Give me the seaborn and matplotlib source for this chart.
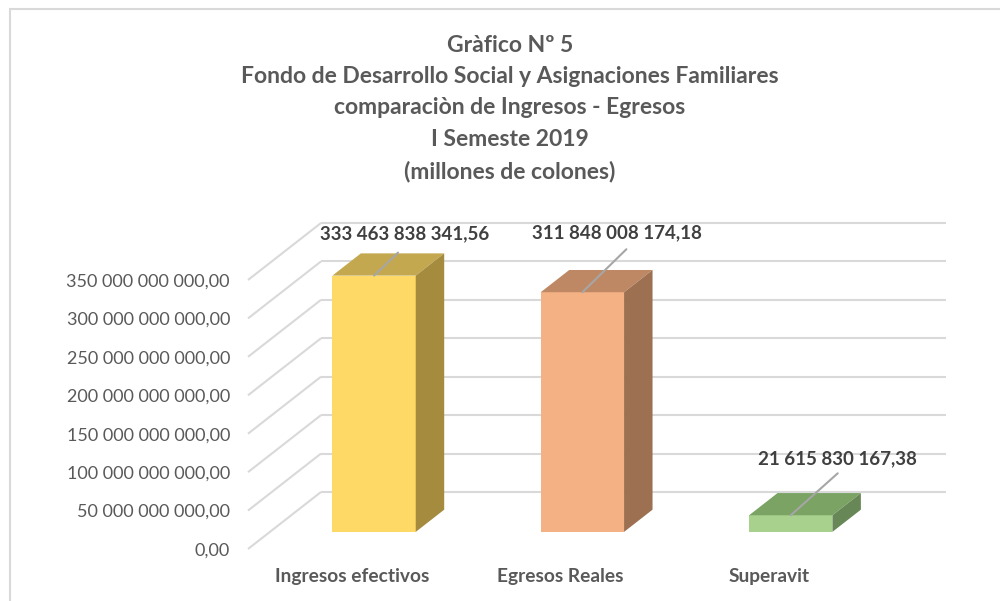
import numpy as np
import seaborn as sns
import matplotlib.pyplot as plt
import matplotlib.transforms as mtransforms
from matplotlib.patches import Polygon, Rectangle

# data
categories = ["Ingresos efectivos", "Egresos Reales", "Superavit"]
values = [333463838341.56, 311848008174.18, 21615830167.38]
y_ticks = [0, 50e9, 100e9, 150e9, 200e9, 250e9, 300e9, 350e9]
title_lines = ["Gràfico Nº 5",
               "Fondo de Desarrollo Social y Asignaciones Familiares",
               "comparaciòn de Ingresos - Egresos",
               "I Semeste 2019",
               "(millones de colones)"]

front_colors = ["#FFD966", "#F4B183", "#A9D18E"]
top_colors = ["#C4A84F", "#BF8864", "#7AA364"]
side_colors = ["#A48B3E", "#9C7050", "#688757"]

# label placement in pixels relative to the top-front edge of each bar
text_off = [(31, 42), (35, 59), (47, 57)]
leader_off = [(24, 23), (44, 43), (47, 42)]


def fmt(v, pos=None):
    return f"{v:,.2f}".replace(",", " ").replace(".", ",")


plt.rcParams["font.family"] = ["Lato", "DejaVu Sans"]
grid_c = "#D9D9D9"
txt_c = "#595959"

fig = plt.figure(figsize=(10, 6.01), dpi=100)
# axes = front plane of the 3d box
ax = fig.add_axes([0.248, 52 / 601, 0.625, 269 / 601])
ax.set_facecolor("none")

ymax = 350e9
ax.set_xlim(-0.5, 2.5)
ax.set_ylim(0, ymax)

# depth of the box in data units
DX = 73 / (625 / 3)
DY = 57 / 269 * ymax
f0, f1 = 0.3, 0.69   # front and back of bars as fraction of depth

sns.barplot(x=categories, y=values, hue=categories, palette=front_colors,
            saturation=1, width=0.4, legend=False, edgecolor="none", ax=ax, zorder=3)

# walls: slanted lines on the left side and horizontal lines on back wall
for v in y_ticks:
    ax.plot([-0.5, -0.5 + DX], [v, v + DY], color=grid_c, lw=1.5,
            clip_on=False, zorder=0.5, solid_capstyle="butt")
    ax.plot([-0.5 + DX, 2.5 + DX], [v + DY, v + DY], color=grid_c, lw=1.5,
            clip_on=False, zorder=0.5, solid_capstyle="butt")

sx, sy = f0 * DX, f0 * DY
tx, ty = (f1 - f0) * DX, (f1 - f0) * DY
shift = mtransforms.Affine2D().translate(sx, sy) + ax.transData

bars = sorted(ax.patches, key=lambda p: p.get_x())
for i, p in enumerate(bars):
    p.set_transform(shift)
    p.set_clip_on(False)
    x0 = p.get_x() + sx
    x1 = x0 + p.get_width()
    h = p.get_height() + sy
    top = Polygon([(x0, h), (x1, h), (x1 + tx, h + ty), (x0 + tx, h + ty)],
                  closed=True, facecolor=top_colors[i], edgecolor="none",
                  zorder=3, clip_on=False)
    side = Polygon([(x1, sy), (x1 + tx, sy + ty), (x1 + tx, h + ty), (x1, h)],
                   closed=True, facecolor=side_colors[i], edgecolor="none",
                   zorder=3, clip_on=False)
    ax.add_patch(top)
    ax.add_patch(side)

    cx = (x0 + x1) / 2
    ax.annotate("", xy=(cx, h), xytext=leader_off[i], textcoords="offset pixels",
                arrowprops=dict(arrowstyle="-", color="#A6A6A6", lw=1.5,
                                shrinkA=0, shrinkB=0), zorder=4,
                annotation_clip=False)
    ax.annotate(fmt(values[i]), xy=(cx, h), xytext=text_off[i],
                textcoords="offset pixels", ha="center", va="center",
                fontsize=13.5, fontweight="bold", color="#404040", zorder=5,
                annotation_clip=False)

ax.set_yticks(y_ticks)
ax.yaxis.set_major_formatter(fmt)
ax.tick_params(axis="y", length=0, pad=13, labelsize=13, labelcolor=txt_c)
ax.tick_params(axis="x", length=0, pad=14, labelsize=13.8, labelcolor=txt_c)
for lab in ax.get_xticklabels():
    lab.set_fontweight("bold")
ax.set_xlabel("")
ax.set_ylabel("")
ax.grid(False)
for s in ax.spines.values():
    s.set_visible(False)

fig.text(0.51, 1 - 35 / 601, "\n".join(title_lines), ha="center", va="top",
         fontsize=16.5, fontweight="bold", color=txt_c, linespacing=1.6)

# chart area border
fig.add_artist(Rectangle((10 / 1000, -0.1), 1.2, 1.1 - 9 / 601, transform=fig.transFigure,
                         fill=False, edgecolor=grid_c, lw=1.5))

fig.savefig("out.png", dpi=100)
